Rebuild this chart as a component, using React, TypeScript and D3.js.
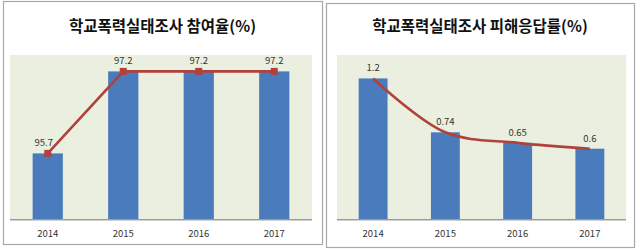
import React from "react";
import * as d3 from "d3";

const years = ["2014", "2015", "2016", "2017"];
const participation = [95.7, 97.2, 97.2, 97.2];
const victimization = [1.2, 0.74, 0.65, 0.6];
const participationLabels = ["95.7", "97.2", "97.2", "97.2"];
const victimizationLabels = ["1.2", "0.74", "0.65", "0.6"];
const titles = ["학교폭력실태조사 참여율(%)", "학교폭력실태조사 피해응답률(%)"];

const FONT = "'Noto Sans CJK KR', 'Noto Sans', sans-serif";
const BAR = "#4a7bbd";
const LINE = "#b0423c";
const BG = "#ebefe0";

type PanelProps = {
  frame: [number, number, number, number];
  plot: [number, number, number, number]; // x0, x1, yTop, yBase
  domain: [number, number];
  values: number[];
  labels: string[];
  labelDx: number[];
  title: string;
  titleY: number;
  smooth: boolean;
  markers: boolean;
};

function Panel({ frame, plot, domain, values, labels, labelDx, title, titleY, smooth, markers }: PanelProps) {
  const [fx0, fy0, fx1, fy1] = frame;
  const [x0, x1, yTop, yBase] = plot;
  const x = d3.scaleBand<string>().domain(years).range([x0, x1]).paddingInner(0.6).paddingOuter(0.3);
  const y = d3.scaleLinear().domain(domain).range([yBase, yTop]);
  const cx = (i: number) => (x(years[i]) as number) + x.bandwidth() / 2;
  const line = d3
    .line<number>()
    .x((_, i) => cx(i))
    .y((d) => y(d))
    .curve(smooth ? d3.curveCatmullRom.alpha(0.5) : d3.curveLinear);
  return (
    <g>
      <rect x={fx0 + 0.5} y={fy0 + 0.5} width={fx1 - fx0} height={fy1 - fy0} fill="#fff" stroke="#a8a8a8" strokeWidth={1.2} />
      <text x={(fx0 + fx1) / 2} y={titleY} textAnchor="middle" fontFamily={FONT} fontWeight={700} fontSize={15.5} fill="#111">
        {title}
      </text>
      <rect x={x0} y={yTop} width={x1 - x0} height={yBase - yTop} fill={BG} />
      {values.map((v, i) => (
        <rect key={i} x={x(years[i])} y={y(v)} width={x.bandwidth()} height={yBase - y(v)} fill={BAR} />
      ))}
      <line x1={x0} x2={x1} y1={yBase + 1.5} y2={yBase + 1.5} stroke="#d0d0d0" strokeWidth={1} />
      <line x1={x0} x2={x1} y1={yBase + 0.5} y2={yBase + 0.5} stroke="#9a9a9a" strokeWidth={1.2} />
      <path d={line(values) || ""} fill="none" stroke={LINE} strokeWidth={2.6} />
      {markers &&
        values.map((v, i) => (
          <rect key={i} x={cx(i) - 3.5} y={y(v) - 3.5} width={7} height={7} fill={LINE} />
        ))}
      {values.map((v, i) => (
        <text key={i} x={cx(i) + labelDx[i]} y={y(v) - 7} textAnchor="middle" fontFamily={FONT} fontSize={9.5} fill="#333">
          {labels[i]}
        </text>
      ))}
      {years.map((yr, i) => (
        <text key={yr} x={cx(i)} y={yBase + 18} textAnchor="middle" fontFamily={FONT} fontSize={9.5} fill="#333">
          {yr}
        </text>
      ))}
    </g>
  );
}

export default function App() {
  return (
    <div style={{ position: "fixed", left: 0, top: 0 }}>
      <svg width={640} height={250} style={{ display: "block" }}>
        <rect width={640} height={250} fill="#fff" />
        <Panel
          frame={[3, 1, 322, 244]}
          plot={[10, 312, 55, 219]}
          domain={[94.5, 97.5]}
          values={participation}
          labels={participationLabels}
          labelDx={[-4, 0, 0, 0]}
          title={titles[0]}
          titleY={32}
          smooth={false}
          markers={true}
        />
        <Panel
          frame={[326, 3, 634, 247]}
          plot={[337, 626, 55, 219]}
          domain={[0, 1.4]}
          values={victimization}
          labels={victimizationLabels}
          labelDx={[0, 0, 0, 0]}
          title={titles[1]}
          titleY={32}
          smooth={true}
          markers={false}
        />
      </svg>
    </div>
  );
}
